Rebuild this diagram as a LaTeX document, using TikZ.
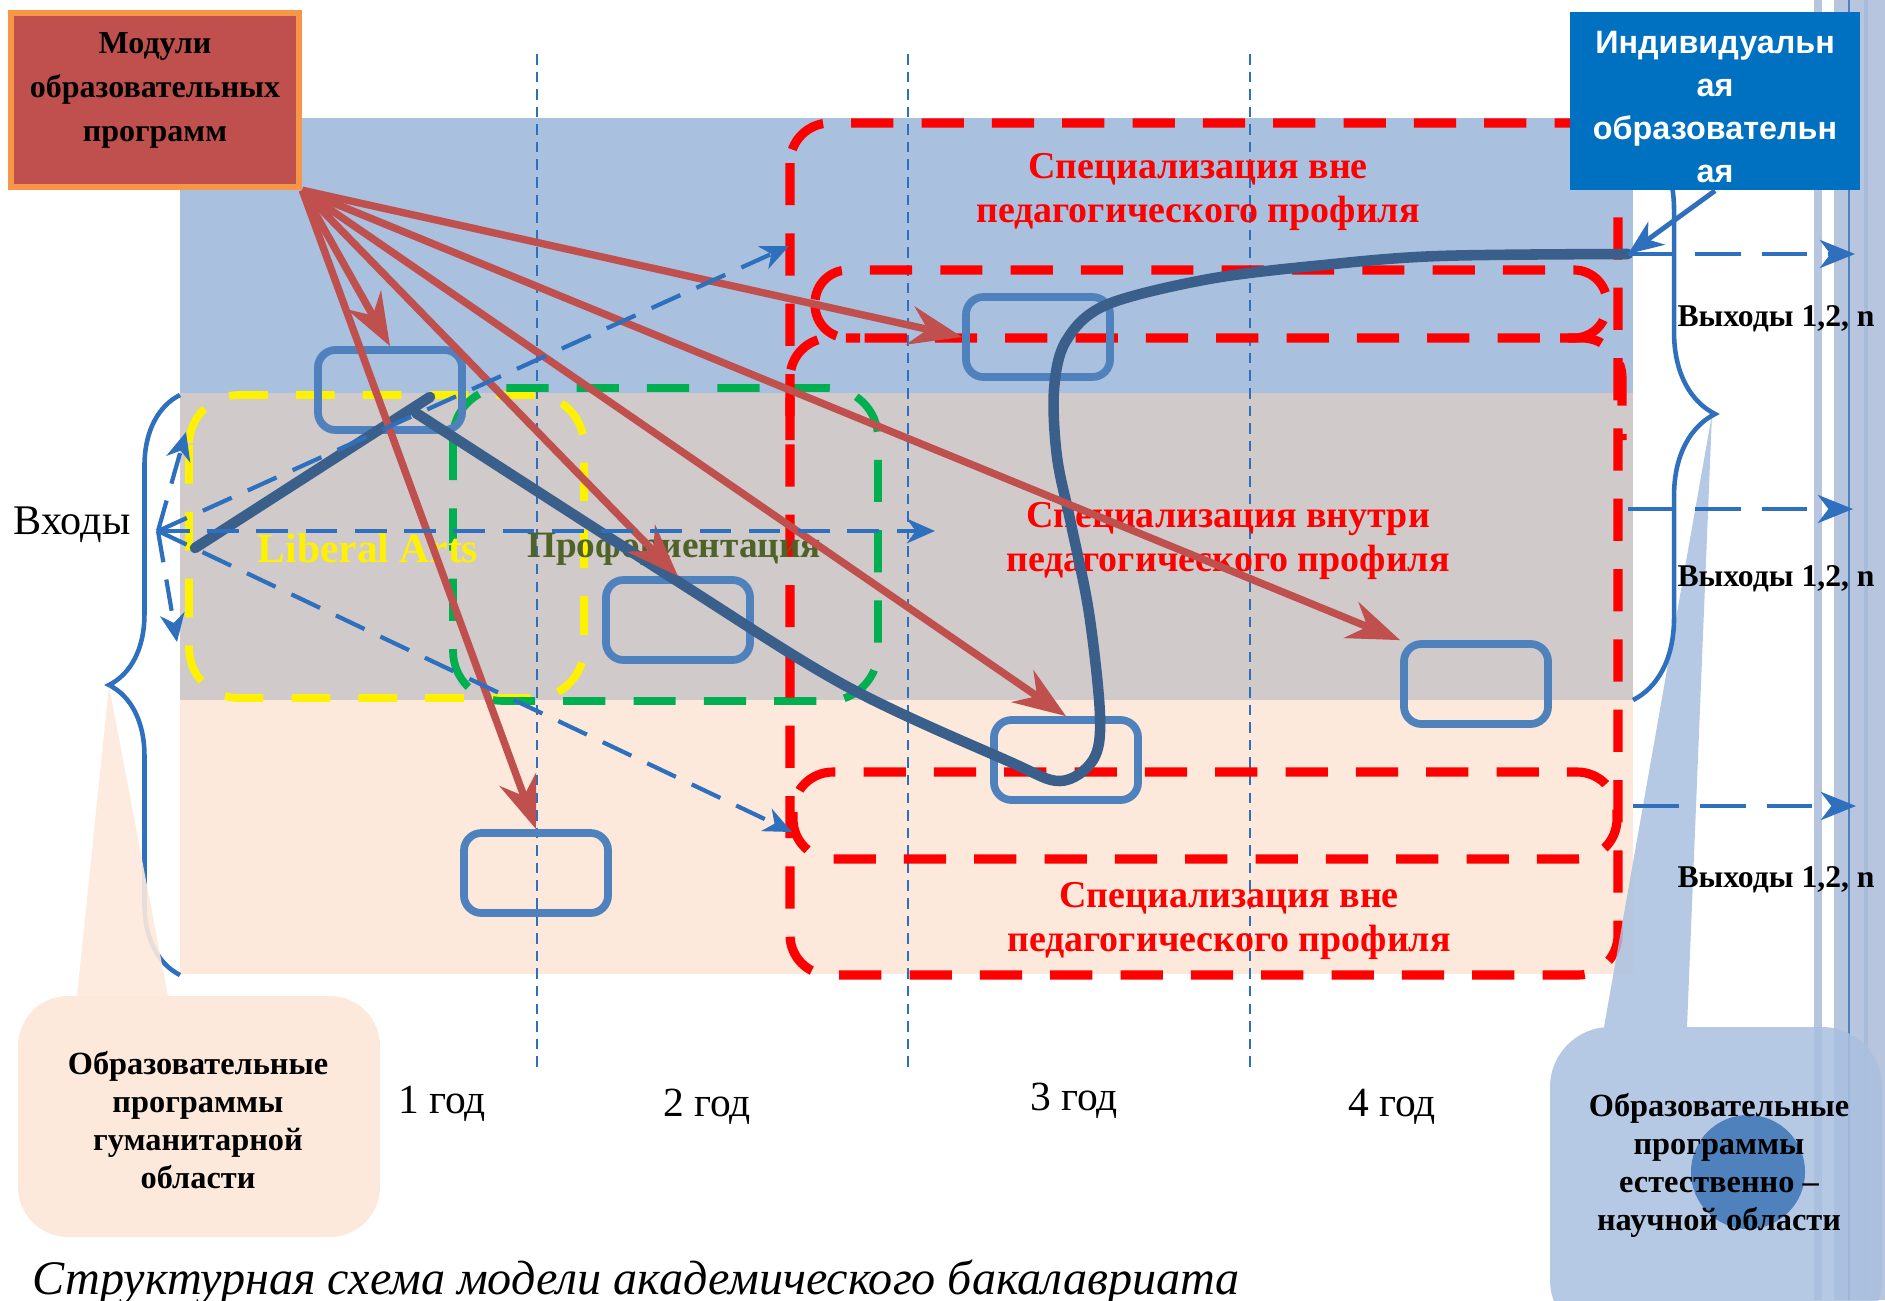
\documentclass[tikz,border=0pt]{standalone}
\usepackage{fontspec}
\setmainfont{Liberation Serif}
\newfontfamily\sansfont{Liberation Sans}
\usetikzlibrary{arrows.meta,decorations.pathreplacing}
\definecolor{bandblue}{RGB}{169,192,223}
\definecolor{bandgray}{RGB}{208,202,202}
\definecolor{bandpeach}{RGB}{253,233,219}
\definecolor{modred}{RGB}{192,80,77}
\definecolor{modorange}{RGB}{247,150,70}
\definecolor{curveblue}{RGB}{58,95,138}
\definecolor{rectblue}{RGB}{79,129,189}
\definecolor{dashblue}{RGB}{46,112,190}
\definecolor{indivblue}{RGB}{0,112,192}
\definecolor{olive}{RGB}{79,98,40}
\definecolor{greendash}{RGB}{0,176,80}
\definecolor{stripe}{RGB}{184,197,222}

\begin{document}
\begin{tikzpicture}[x=0.01cm,y=-0.01cm,
    yeardash/.style={dashblue,line width=0.6pt,dash pattern=on 3pt off 2pt},
    reddash/.style={red,line width=2.6pt,dash pattern=on 12pt off 8pt,rounded corners=0.4cm},
    cell/.style={draw=rectblue,line width=2.2pt,rounded corners=5pt,minimum width=1.44cm,minimum height=0.8cm,inner sep=0pt},
    redarrow/.style={modred,line width=2.1pt,-{Stealth[length=15pt,width=11pt,inset=5pt]}},
    bluearrow/.style={dashblue,line width=1.2pt,dash pattern=on 9pt off 5pt,-{Stealth[length=8pt,width=7pt,inset=2.5pt]}},
    exitarrow/.style={dashblue,line width=1.2pt,dash pattern=on 13pt off 6pt,-{Stealth[length=10pt,width=8pt,inset=3pt]}},
    bracestyle/.style={dashblue,line width=1.3pt,decorate},
    speclabel/.style={red,font=\bfseries\fontsize{10.8}{12.7}\selectfont,align=center},
    exitlabel/.style={font=\bfseries\fontsize{9}{11}\selectfont},
    yearlabel/.style={font=\fontsize{11.8}{14}\selectfont},
    calltext/.style={font=\bfseries\fontsize{9.2}{10.8}\selectfont,align=center},
    ]
        \useasboundingbox (0,0) rectangle (1885,1300);
        \clip (0,0) rectangle (1885,1300);
        \fill[stripe] (1814,0) rectangle (1822,1300);
        \fill[stripe] (1834,0) rectangle (1885,1300);
        \fill[stripe!85!rectblue] (1864,0) rectangle (1868,1300);
        \draw[rectblue,line width=0.7pt] (1849,0)--(1849,1300);
        \fill[bandblue] (180,118) rectangle (1633,393);
        \fill[bandgray] (180,393) rectangle (1633,700);
        \fill[bandpeach] (180,700) rectangle (1633,974);
        \foreach \xx in {537,908,1250} \draw[yeardash] (\xx,54)--(\xx,1072);
        \draw[yellow,line width=2.2pt,dash pattern=on 11pt off 8pt,rounded corners=0.5cm] (189,395) rectangle (584,698);
        \draw[greendash,line width=2.2pt,dash pattern=on 12pt off 8pt,rounded corners=0.5cm] (453,388) rectangle (878,701);
        \draw[reddash] (790,123) rectangle (1618,975);
        \draw[reddash,rounded corners=0.33cm] (815,270) rectangle (1607,338);
        \draw[reddash] (790,440) |- (860,338);
        \draw[reddash] (1560,338) -| (1622,440);
        \draw[reddash] (793,772) rectangle (1617,859);
        \node[speclabel] (spectop) at (1198,192) {Специализация вне\\педагогического профиля};
        \node[speclabel] (specmid) at (1228,541) {Специализация внутри\\педагогического профиля};
        \node[speclabel] (specbot) at (1229,921) {Специализация вне\\педагогического профиля};
        \node[yellow,font=\bfseries\fontsize{11.8}{14}\selectfont] (libarts) at (368,548) {Liberal Arts};
        \node[olive,font=\bfseries\fontsize{10.6}{14}\selectfont] (proforient) at (674,549) {Профориентация};
        \node[cell] (c1) at (390,390) {};
        \node[cell] (c2) at (678,620) {};
        \node[cell] (c3) at (536,873) {};
        \node[cell] (c4) at (1038,337) {};
        \node[cell] (c5) at (1066,760) {};
        \node[cell] (c6) at (1476,684) {};
        \node[fill=modred,draw=modorange,line width=1.8pt,minimum width=2.88cm,minimum height=1.74cm,inner sep=0pt] (modules) at (155,100) {};
        \node[font=\bfseries\fontsize{9.1}{12.5}\selectfont,align=center] (modtext) at (155,90) {Модули\\образовательных\\программ};
        \draw[curveblue,line width=3pt,line cap=round] (195,548)--(430,397);
        \draw[curveblue,line width=3pt,line cap=round] plot[smooth,tension=0.55] coordinates {(416,413) (674,579) (846,686) (1008,761) (1060,781) (1093,760) (1100,716) (1089,613) (1071,524) (1057,457) (1054,390) (1066,341) (1106,305) (1209,279) (1324,265) (1439,256) (1628,254)};
        \foreach \tgt in {c1.north,c3.north,c2.north,c5.north,c6.north west,c4.west}
            \draw[redarrow] (modules.south east)--(\tgt);
        \coordinate (fan) at (158,531);
        \coordinate (inup) at (186,432);
        \coordinate (indown) at (177,642);
        \coordinate (inmid) at (935,531);
        \coordinate (totop) at (789,246);
        \coordinate (tobot) at (792,832);
        \foreach \tgt in {inup,indown,inmid,totop,tobot}
            \draw[bluearrow] (fan)--(\tgt);
        \draw[bracestyle,decoration={brace,amplitude=0.71cm}] (180,975)--(180,395);
        \fill[bandpeach,opacity=0.9] (77,996)--(109,686)--(168,996)--cycle;
        \fill[bandpeach,rounded corners=0.5cm] (18,996) rectangle (380,1237);
        \node[calltext] (humtext) at (198,1120) {Образовательные\\программы\\гуманитарной\\области};
        \fill[bandblue,opacity=0.85] (1604,1027)--(1712,414)--(1687,1027)--cycle;
        \fill[bandblue,opacity=0.85,rounded corners=0.6cm] (1550,1027) rectangle (1882,1340);
        \fill[rectblue] (1748,1172) circle (0.57cm);
        \node[calltext] (scitext) at (1719,1165) {Образовательные\\программы\\естественно –\\научной области};
        \draw[bracestyle,decoration={brace,amplitude=0.82cm}] (1633,128)--(1633,700);
        \coordinate (o1s) at (1628,254);
        \coordinate (o1e) at (1855,254);
        \coordinate (o2s) at (1628,509);
        \coordinate (o2e) at (1853,509);
        \coordinate (o3s) at (1633,806);
        \coordinate (o3e) at (1856,806);
        \draw[exitarrow] (o1s)--(o1e);
        \draw[exitarrow] (o2s)--(o2e);
        \draw[exitarrow] (o3s)--(o3e);
        \node[exitlabel] (exit1) at (1776,319) {Выходы 1,2, n};
        \node[exitlabel] (exit2) at (1776,579) {Выходы 1,2, n};
        \node[exitlabel] (exit3) at (1776,880) {Выходы 1,2, n};
        \node[fill=indivblue,minimum width=2.89cm,minimum height=1.78cm,inner sep=0pt] (indiv) at (1715,101) {};
        \node[text=white,font=\sansfont\bfseries\fontsize{9.2}{12.3}\selectfont,align=center] (indivtext) at (1715,107) {Индивидуальн\\ая\\образовательн\\ая};
        \draw[dashblue,line width=1.4pt,-{Stealth[length=10pt,width=8pt,inset=3pt]}] (indiv.south)--(o1s);
        \node[yearlabel] (year1) at (442,1104) {1 год};
        \node[yearlabel] (year2) at (707,1107) {2 год};
        \node[yearlabel] (year3) at (1074,1101) {3 год};
        \node[yearlabel] (year4) at (1392,1107) {4 год};
        \node[font=\fontsize{12}{14}\selectfont] (inputs) at (72,525) {Входы};
        \node[font=\itshape\fontsize{13.7}{16}\selectfont,anchor=base west,inner sep=0pt] (caption) at (32,1294) {Структурная схема модели академического бакалавриата};
    \end{tikzpicture}
\end{document}
